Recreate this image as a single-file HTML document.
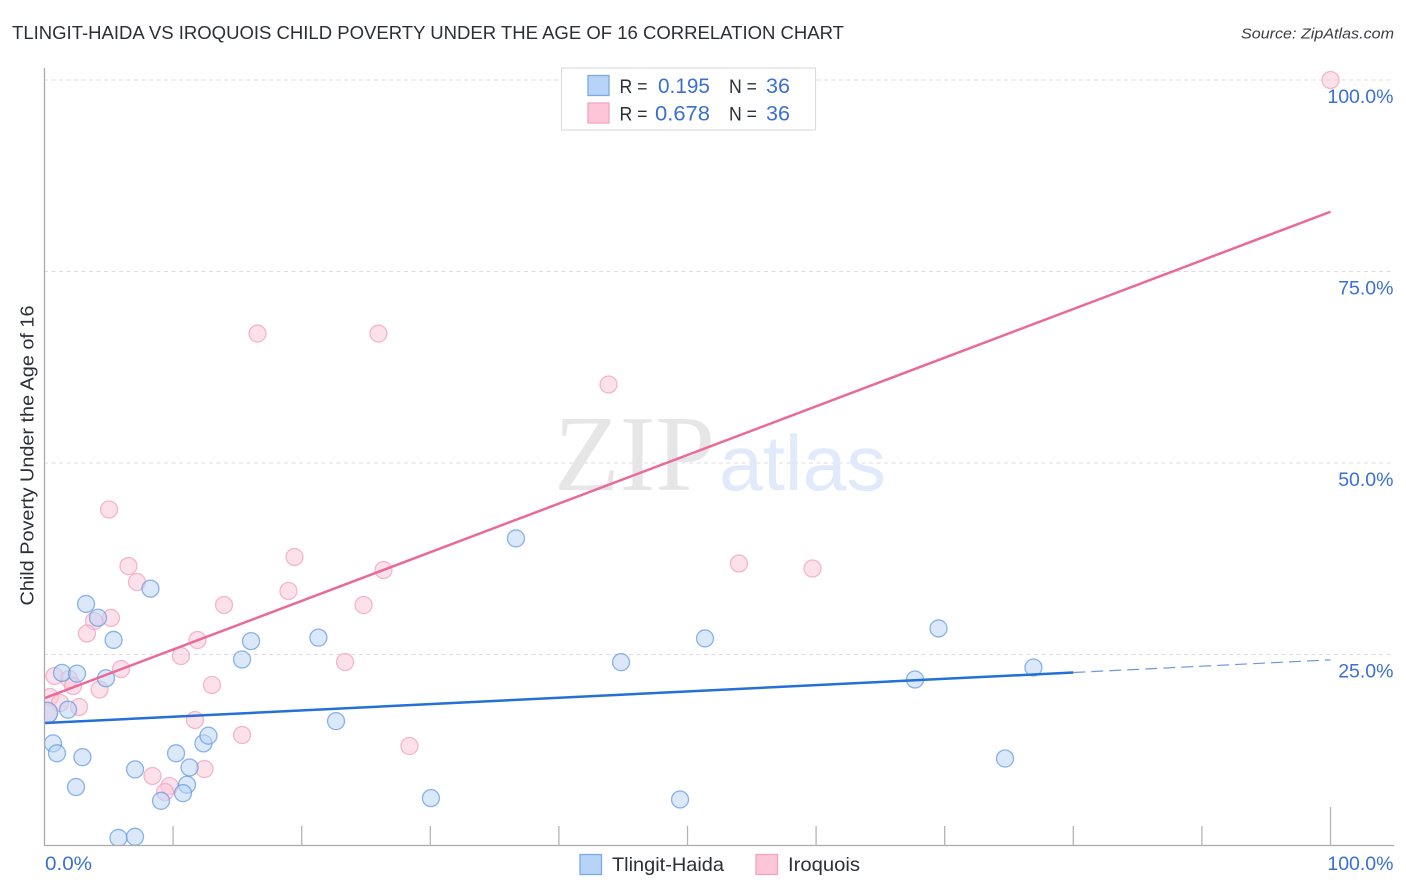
<!DOCTYPE html>
<html lang="en">
<head>
<meta charset="utf-8">
<title>Tlingit-Haida vs Iroquois Child Poverty Under the Age of 16 Correlation Chart</title>
<style>
html,body{margin:0;padding:0;background:#fff;width:1406px;height:892px;overflow:hidden}
svg{display:block;font-family:"Liberation Sans",sans-serif}
</style>
</head>
<body>
<svg id="chart" xmlns="http://www.w3.org/2000/svg" width="1406" height="892" viewBox="0 0 1406 892">
  <defs>
    <clipPath id="plot-clip"><rect x="44" y="60" width="1350" height="785.5"/></clipPath>
  </defs>
  <rect x="0" y="0" width="1406" height="892" fill="#ffffff"/>
  <text x="12" y="39" font-size="18.5" fill="#2b2f36" textLength="832" lengthAdjust="spacingAndGlyphs">TLINGIT-HAIDA VS IROQUOIS CHILD POVERTY UNDER THE AGE OF 16 CORRELATION CHART</text>
  <text x="1394" y="38.5" font-size="15" font-style="italic" fill="#3a3d42" text-anchor="end" textLength="153" lengthAdjust="spacingAndGlyphs">Source: ZipAtlas.com</text>
  <g id="grid"></g>
  <g>
    <text x="554" y="490" font-family="'Liberation Serif',serif" font-size="108" fill="#e6e6e6" textLength="161" lengthAdjust="spacingAndGlyphs">ZIP</text>
    <text x="719" y="490" font-size="78" fill="#e1eafa" textLength="167" lengthAdjust="spacingAndGlyphs">atlas</text>
  </g>
  <g id="points" clip-path="url(#plot-clip)"></g>
  <g id="trends"></g>
  <g id="axes"></g>
  <text transform="translate(33.5,605.5) rotate(-90)" font-size="18.5" fill="#2b2f36" textLength="300" lengthAdjust="spacingAndGlyphs">Child Poverty Under the Age of 16</text>
  <g>
    <rect x="561.5" y="68" width="254" height="62" fill="#ffffff" stroke="#dddddd" stroke-width="1.2"/>
    <rect x="588" y="75.5" width="21" height="20" fill="#b8d3f8" stroke="#7aa9e6" stroke-width="1.3"/>
    <rect x="588" y="103" width="21" height="20" fill="#fcc6d8" stroke="#f2a3bf" stroke-width="1.3"/>
    <text x="619.5" y="93" font-size="19.5" fill="#2b2f36" textLength="28" lengthAdjust="spacingAndGlyphs">R =</text>
    <text x="710" y="93" font-size="21" fill="#3b70cf" text-anchor="end" textLength="52" lengthAdjust="spacingAndGlyphs">0.195</text>
    <text x="729" y="93" font-size="19.5" fill="#2b2f36" textLength="28" lengthAdjust="spacingAndGlyphs">N =</text>
    <text x="790" y="93" font-size="21" fill="#3b70cf" text-anchor="end" textLength="24" lengthAdjust="spacingAndGlyphs">36</text>
    <text x="619.5" y="120.5" font-size="19.5" fill="#2b2f36" textLength="28" lengthAdjust="spacingAndGlyphs">R =</text>
    <text x="710" y="120.5" font-size="21" fill="#3b70cf" text-anchor="end" textLength="55" lengthAdjust="spacingAndGlyphs">0.678</text>
    <text x="729" y="120.5" font-size="19.5" fill="#2b2f36" textLength="28" lengthAdjust="spacingAndGlyphs">N =</text>
    <text x="790" y="120.5" font-size="21" fill="#3b70cf" text-anchor="end" textLength="24" lengthAdjust="spacingAndGlyphs">36</text>
  </g>
  <g>
    <rect x="580" y="854.5" width="21.5" height="20" fill="#b8d3f8" stroke="#7aa9e6" stroke-width="1.3"/>
    <text x="612" y="871" font-size="19.5" fill="#2b2f36" textLength="112" lengthAdjust="spacingAndGlyphs">Tlingit-Haida</text>
    <rect x="756" y="854.5" width="21.5" height="20" fill="#fcc6d8" stroke="#f2a3bf" stroke-width="1.3"/>
    <text x="788" y="871" font-size="19.5" fill="#2b2f36" textLength="72" lengthAdjust="spacingAndGlyphs">Iroquois</text>
  </g>
</svg>
<script>
const blueX = [8.24,3.23,4.16,5.37,1.36,2.53,4.78,1.83,0.2,0.66,0.97,2.95,2.45,7.04,10.23,12.36,12.75,11.28,11.08,10.77,9.06,5.75,7.04,15.36,16.06,21.3,22.67,30.05,36.66,44.83,49.42,51.36,67.69,69.52,74.69,76.9];
const blueY = [33.6,31.6,29.8,26.9,22.6,22.5,21.9,17.8,17.4,13.4,12.1,11.6,7.7,10.0,12.1,13.4,14.4,10.25,8.0,6.9,5.9,1.05,1.2,24.35,26.75,27.2,16.3,6.25,40.15,24.0,6.07,27.1,21.74,28.4,11.42,23.3];
const pinkX = [100,16.56,25.97,43.86,5.02,6.53,7.19,19.44,26.36,18.97,13.96,24.81,5.17,3.85,3.3,11.9,10.61,23.37,5.95,13.02,4.28,0.78,1.91,2.22,0.43,1.21,2.68,0.2,11.7,15.36,28.38,12.44,8.4,9.72,9.37,54.0,59.72];
const pinkY = [100,66.9,66.9,60.25,43.93,36.55,34.46,37.73,36.03,33.29,31.46,31.46,29.77,29.37,27.74,26.89,24.8,24.02,23.11,21.02,20.43,22.19,21.8,20.89,19.45,18.67,18.15,17.36,16.45,14.49,13.05,10.05,9.14,7.83,7.05,36.88,36.23];
const blueTrendX = [0,80];
const blueTrendY = [16.05,22.65];
const blueForecastX = [80,100];
const blueForecastY = [22.65,24.3];
const pinkTrendX = [0,100];
const pinkTrendY = [19.3,82.8];
const yTicks = [25,50,75,100];
const yTickLabels = ["25.0%","50.0%","75.0%","100.0%"];
const xTicks = [10,20,30,40,50,60,70,80,90,100];
const xEndLabels = ["0.0%","100.0%"];

const NS = 'http://www.w3.org/2000/svg';
function sx(v){return 44.5 + v * 12.86;}
function sy(v){return 846 - v * 7.66;}
function make(tag, parent, attrs){
  const el = document.createElementNS(NS, tag);
  for (const k in attrs) el.setAttribute(k, attrs[k]);
  parent.appendChild(el);
  return el;
}

const grid = document.getElementById('grid');
yTicks.forEach(function(t){
  const g = make('line', grid, {x1:44, x2:1394, y1:sy(t), y2:sy(t), stroke:'#dcdcdc', 'stroke-width':1, 'stroke-dasharray':'4 3.5'});
  
  
});

const pointsLayer = document.getElementById('points');
function drawPoints(xs, ys, fill, stroke, seriesName){
  xs.forEach(function(x, i){
    const r = x < 0.3 ? 10.5 : 8.5;
    const c = make('circle', pointsLayer, {cx:sx(x), cy:sy(ys[i]), r:r, fill:fill, 'fill-opacity':0.55, stroke:stroke, 'stroke-opacity':0.7, 'stroke-width':1.3});
    
    
  });
}
drawPoints(pinkX, pinkY, '#fbc8d9', '#ee9db9', 'iroquois-point');
drawPoints(blueX, blueY, '#bcd5f6', '#5c96e0', 'tlingit-haida-point');

const trends = document.getElementById('trends');
const t1 = make('line', trends, {x1:sx(blueForecastX[0]), y1:sy(blueForecastY[0]), x2:sx(blueForecastX[1]), y2:sy(blueForecastY[1]), stroke:'#6f98d8', 'stroke-width':1.2, 'stroke-dasharray':'12 6'});


const t2 = make('line', trends, {x1:sx(blueTrendX[0]), y1:sy(blueTrendY[0]), x2:sx(blueTrendX[1]), y2:sy(blueTrendY[1]), stroke:'#2470d6', 'stroke-width':2.5});


const t3 = make('line', trends, {x1:sx(pinkTrendX[0]), y1:sy(pinkTrendY[0]), x2:sx(pinkTrendX[1]), y2:sy(pinkTrendY[1]), stroke:'#e96a99', 'stroke-width':2.5});



const axes = document.getElementById('axes');
const ay = make('line', axes, {x1:44.5, x2:44.5, y1:68, y2:846, stroke:'#aaaaaa', 'stroke-width':1.3});


const ax = make('line', axes, {x1:44, x2:1394, y1:845.5, y2:845.5, stroke:'#aaaaaa', 'stroke-width':1.3});


xTicks.forEach(function(t){
  const len = t === 100 ? 39 : 20;
  const l = make('line', axes, {x1:sx(t), x2:sx(t), y1:846, y2:846 - len, stroke:'#b4b4b4', 'stroke-width':1.3});
  
  
});
yTicks.forEach(function(t, i){
  const label = make('text', axes, {x:1393.5, y:sy(t) + 23, 'font-size':19.5, fill:'#3b70cf', 'text-anchor':'end'});
  label.textContent = yTickLabels[i];
  
  
});
const x0 = make('text', axes, {x:45, y:870, 'font-size':19.5, fill:'#3b70cf', textLength:47, lengthAdjust:'spacingAndGlyphs'});
x0.textContent = xEndLabels[0];


const x1 = make('text', axes, {x:1393.5, y:870, 'font-size':19.5, fill:'#3b70cf', 'text-anchor':'end'});
x1.textContent = xEndLabels[1];


</script>
</body>
</html>
